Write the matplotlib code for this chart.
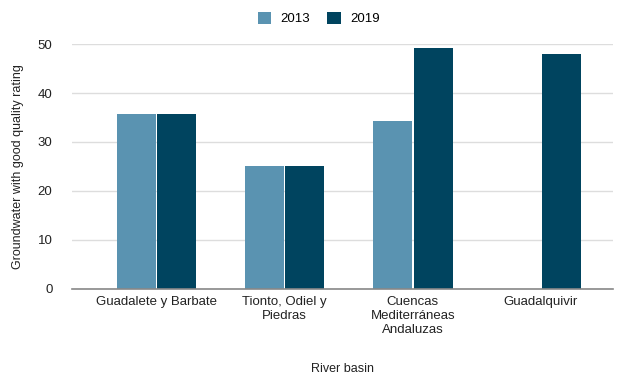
import matplotlib.pyplot as plt
import numpy as np

plt.rcParams['font.family'] = ['Liberation Sans', 'DejaVu Sans']

cuencas = ["Guadalete y Barbate", "Tionto, Odiel y\nPiedras",
           "Cuencas\nMediterráneas\nAndaluzas", "Guadalquivir"]
valores_2013 = [35.8, 25.0, 34.3, np.nan]
valores_2019 = [35.8, 25.0, 49.2, 47.9]

cor_2013 = "#5a93b1"
cor_2019 = "#00445f"

fig = plt.figure(figsize=(6.18, 3.81), dpi=100)
ax = fig.add_axes([0.1165, 0.2415, 0.875, 0.643])

x = np.arange(len(cuencas))
largura = 0.305
ax.bar(x - 0.158, valores_2013, largura, color=cor_2013, label="2013", zorder=3)
ax.bar(x + 0.158, valores_2019, largura, color=cor_2019, label="2019", zorder=3)

ax.set_xlim(-0.66, 3.56)
ax.set_ylim(0, 50)
ax.set_yticks([0, 10, 20, 30, 40, 50])
ax.set_xticks(x)
ax.set_xticklabels(cuencas, fontsize=9.5, color="#222222", linespacing=1.2)
ax.tick_params(axis='y', labelsize=9.5, colors="#222222", length=0, pad=14)
ax.tick_params(axis='x', length=0, pad=5)

ax.grid(axis='y', color="#dddddd", linewidth=1, zorder=0)
for lado in ['top', 'right', 'left']:
    ax.spines[lado].set_visible(False)
ax.spines['bottom'].set_color("#888888")
ax.spines['bottom'].set_linewidth(1.2)
ax.spines['bottom'].set_zorder(4)

ax.set_xlabel("River basin", fontsize=9, color="#222222", labelpad=20)
ax.set_ylabel("Groundwater with good quality rating", fontsize=9, color="#222222", labelpad=10)

fig.legend(loc='upper center', bbox_to_anchor=(0.516, 1.0), ncol=2, frameon=False,
           fontsize=9.5, handlelength=1.05, handleheight=1.05, columnspacing=1.3,
           handletextpad=0.7)

plt.savefig("out.png", dpi=100)
